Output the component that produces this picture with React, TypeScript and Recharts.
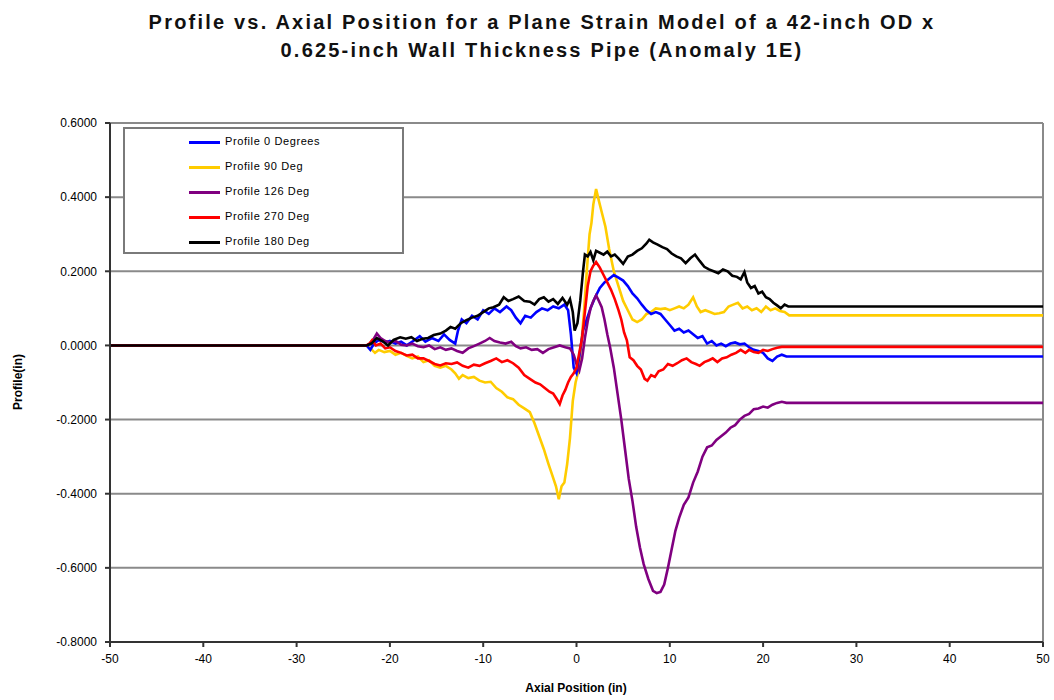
import React from "react";
import { LineChart, Line, XAxis, YAxis, CartesianGrid, ReferenceLine } from "recharts";

const titleLines = [
  "Profile vs. Axial Position for a Plane Strain Model of a 42-inch OD x",
  "0.625-inch Wall Thickness Pipe (Anomaly 1E)",
];
const xTicks = [-50, -40, -30, -20, -10, 0, 10, 20, 30, 40, 50];
const yTicks = [-0.8, -0.6, -0.4, -0.2, 0, 0.2, 0.4, 0.6];

const profile0Deg: [number, number][] = [
  [-50, 0], [-22.5, 0], [-22.1, -0.012], [-21.7, 0.005], [-21.2, 0.015], [-20.5, 0.008], [-20, 0.012],
  [-19.4, 0.005], [-18.8, 0.01], [-18.2, 0.0], [-17.5, 0.012], [-16.8, 0.025], [-16.2, 0.01], [-15.5, 0.02],
  [-14.8, 0.012], [-14.2, 0.03], [-13.6, 0.015], [-13.0, 0.005], [-12.7, 0.04], [-12.3, 0.07], [-11.8, 0.06],
  [-11.2, 0.08], [-10.6, 0.07], [-10.0, 0.095], [-9.4, 0.085], [-8.8, 0.1], [-8.2, 0.09], [-7.5, 0.105],
  [-7.0, 0.095], [-6.5, 0.075], [-6.0, 0.06], [-5.5, 0.08], [-4.9, 0.075], [-4.3, 0.09], [-3.7, 0.1],
  [-3.1, 0.095], [-2.5, 0.105], [-1.9, 0.1], [-1.3, 0.11], [-0.9, 0.095], [-0.6, 0.03], [-0.3, -0.06],
  [0.0, -0.075], [0.3, -0.03], [0.7, 0.04], [1.1, 0.07], [1.5, 0.1], [2.0, 0.13], [2.5, 0.155], [3.0, 0.17],
  [3.5, 0.18], [4.0, 0.19], [4.5, 0.183], [5.0, 0.175], [5.5, 0.16], [6.0, 0.14], [6.5, 0.127], [7.0, 0.11],
  [7.5, 0.095], [8.0, 0.085], [8.5, 0.09], [9.0, 0.085], [9.5, 0.07], [10.0, 0.055], [10.5, 0.04],
  [11.0, 0.045], [11.5, 0.035], [12.0, 0.04], [12.5, 0.03], [13.0, 0.02], [13.5, 0.025], [14.0, 0.005],
  [14.5, 0.012], [15.0, 0.0], [15.5, 0.005], [16.0, -0.002], [16.5, 0.005], [17.0, 0.008], [17.5, 0.003],
  [18.0, 0.005], [18.5, -0.005], [19.0, -0.012], [19.5, -0.015], [20.0, -0.02], [20.5, -0.035],
  [21.0, -0.042], [21.5, -0.03], [22.0, -0.025], [22.5, -0.03], [50, -0.03],
];

const profile90Deg: [number, number][] = [
  [-50, 0], [-22.5, 0], [-22.0, -0.01], [-21.6, -0.02], [-21.2, -0.012], [-20.6, -0.018], [-20, -0.015],
  [-19.4, -0.025], [-18.8, -0.02], [-18.2, -0.028], [-17.6, -0.035], [-17.0, -0.03], [-16.4, -0.045],
  [-15.8, -0.04], [-15.2, -0.055], [-14.6, -0.06], [-14.0, -0.055], [-13.4, -0.065], [-13.0, -0.075],
  [-12.6, -0.09], [-12.2, -0.08], [-11.6, -0.088], [-11.0, -0.085], [-10.4, -0.095], [-9.8, -0.1],
  [-9.2, -0.098], [-8.6, -0.115], [-8.0, -0.125], [-7.4, -0.14], [-6.8, -0.145], [-6.2, -0.16],
  [-5.6, -0.17], [-5.0, -0.18], [-4.5, -0.21], [-4.0, -0.245], [-3.5, -0.28], [-3.0, -0.32], [-2.6, -0.35],
  [-2.2, -0.38], [-1.9, -0.415], [-1.6, -0.38], [-1.3, -0.37], [-1.0, -0.32], [-0.7, -0.25], [-0.4, -0.15],
  [-0.1, -0.1], [0.2, -0.07], [0.5, 0.0], [0.8, 0.09], [1.1, 0.2], [1.4, 0.3], [1.6, 0.33], [1.8, 0.38],
  [2.1, 0.422], [2.4, 0.39], [2.7, 0.36], [3.1, 0.32], [3.5, 0.26], [4.0, 0.2], [4.5, 0.16], [5.0, 0.12],
  [5.5, 0.095], [6.0, 0.07], [6.5, 0.063], [7.0, 0.07], [7.5, 0.085], [8.0, 0.09], [8.5, 0.1], [9.0, 0.098],
  [9.5, 0.1], [10.0, 0.095], [10.5, 0.1], [11.0, 0.105], [11.5, 0.1], [12.0, 0.11], [12.5, 0.13],
  [12.9, 0.105], [13.3, 0.09], [13.8, 0.095], [14.3, 0.09], [14.8, 0.085], [15.3, 0.087], [15.8, 0.09],
  [16.3, 0.105], [16.8, 0.11], [17.3, 0.115], [17.8, 0.1], [18.3, 0.105], [18.8, 0.095], [19.3, 0.1],
  [19.8, 0.09], [20.3, 0.105], [20.8, 0.095], [21.3, 0.1], [21.8, 0.093], [22.3, 0.09], [22.8, 0.081],
  [50, 0.081],
];

const profile126Deg: [number, number][] = [
  [-50, 0], [-22.5, 0], [-22.1, 0.005], [-21.8, 0.015], [-21.4, 0.032], [-21.0, 0.02], [-20.5, 0.012],
  [-20, 0.008], [-19.4, 0.012], [-18.8, 0.002], [-18.2, 0.0], [-17.6, 0.005], [-17.0, -0.002],
  [-16.4, -0.005], [-15.8, 0.0], [-15.2, -0.01], [-14.6, -0.005], [-14.0, -0.012], [-13.4, -0.008],
  [-12.8, -0.015], [-12.2, -0.02], [-11.6, -0.008], [-11.0, -0.002], [-10.4, 0.005], [-9.8, 0.012],
  [-9.3, 0.02], [-8.8, 0.012], [-8.2, 0.008], [-7.6, 0.005], [-7.0, 0.01], [-6.5, -0.002], [-6.0, -0.008],
  [-5.4, -0.005], [-4.8, -0.012], [-4.2, -0.01], [-3.6, -0.02], [-3.0, -0.01], [-2.4, -0.005], [-1.8, 0.0],
  [-1.2, -0.005], [-0.7, -0.008], [-0.3, -0.025], [0.0, -0.05], [0.3, -0.068], [0.6, -0.035], [0.9, 0.02],
  [1.2, 0.065], [1.5, 0.1], [1.8, 0.12], [2.1, 0.135], [2.4, 0.12], [2.7, 0.103], [3.0, 0.07], [3.3, 0.03],
  [3.6, -0.005], [4.0, -0.06], [4.4, -0.13], [4.8, -0.2], [5.2, -0.28], [5.6, -0.36], [6.0, -0.42],
  [6.4, -0.49], [6.8, -0.545], [7.2, -0.59], [7.7, -0.63], [8.2, -0.662], [8.6, -0.668], [9.0, -0.665],
  [9.4, -0.645], [9.8, -0.6], [10.2, -0.55], [10.6, -0.5], [11.0, -0.465], [11.5, -0.43], [12.0, -0.41],
  [12.5, -0.37], [13.0, -0.34], [13.5, -0.3], [14.0, -0.275], [14.5, -0.27], [15.0, -0.255], [15.5, -0.245],
  [16.0, -0.235], [16.5, -0.222], [17.0, -0.215], [17.5, -0.2], [18.0, -0.19], [18.5, -0.185],
  [19.0, -0.172], [19.5, -0.17], [20.0, -0.165], [20.5, -0.168], [21.0, -0.16], [21.5, -0.155],
  [22.0, -0.152], [22.5, -0.155], [50, -0.155],
];

const profile270Deg: [number, number][] = [
  [-50, 0], [-22.5, 0], [-22.2, 0.005], [-21.9, 0.014], [-21.5, 0.0], [-21.0, 0.005], [-20.5, -0.008],
  [-20, -0.005], [-19.4, -0.015], [-18.8, -0.02], [-18.2, -0.027], [-17.6, -0.025], [-17.0, -0.035],
  [-16.4, -0.035], [-15.8, -0.042], [-15.2, -0.05], [-14.6, -0.054], [-14.0, -0.048], [-13.4, -0.05],
  [-12.8, -0.046], [-12.2, -0.055], [-11.6, -0.06], [-11.0, -0.052], [-10.4, -0.055], [-9.8, -0.048],
  [-9.2, -0.042], [-8.6, -0.035], [-8.0, -0.045], [-7.4, -0.04], [-6.8, -0.048], [-6.2, -0.06],
  [-5.6, -0.08], [-5.0, -0.09], [-4.4, -0.1], [-3.9, -0.105], [-3.4, -0.115], [-2.9, -0.125], [-2.5, -0.13],
  [-2.1, -0.145], [-1.8, -0.158], [-1.5, -0.135], [-1.2, -0.12], [-0.9, -0.1], [-0.6, -0.085],
  [-0.3, -0.075], [0.0, -0.06], [0.3, -0.02], [0.6, 0.02], [0.9, 0.09], [1.2, 0.16], [1.5, 0.2],
  [1.8, 0.215], [2.1, 0.225], [2.5, 0.21], [2.9, 0.19], [3.3, 0.17], [3.7, 0.15], [4.1, 0.125],
  [4.5, 0.095], [4.8, 0.07], [5.1, 0.035], [5.4, 0.014], [5.7, -0.032], [6.1, -0.04], [6.5, -0.055],
  [6.9, -0.065], [7.3, -0.09], [7.6, -0.095], [8.0, -0.08], [8.4, -0.085], [8.8, -0.07], [9.3, -0.065],
  [9.8, -0.05], [10.3, -0.055], [10.8, -0.048], [11.3, -0.04], [11.8, -0.035], [12.3, -0.045],
  [12.8, -0.05], [13.2, -0.055], [13.7, -0.045], [14.2, -0.04], [14.6, -0.035], [15.1, -0.045],
  [15.6, -0.035], [16.1, -0.032], [16.6, -0.025], [17.1, -0.02], [17.6, -0.012], [18.1, -0.02],
  [18.5, -0.012], [19.0, -0.018], [19.5, -0.02], [20.0, -0.012], [20.5, -0.015], [21.0, -0.01],
  [21.5, -0.006], [22.0, -0.004], [50, -0.004],
];

const profile180Deg: [number, number][] = [
  [-50, 0], [-22.5, 0], [-22.0, 0.005], [-21.4, 0.02], [-20.8, 0.012], [-20.2, 0.0], [-19.6, 0.015],
  [-18.9, 0.022], [-18.3, 0.018], [-17.7, 0.022], [-17.1, 0.012], [-16.5, 0.018], [-15.9, 0.02],
  [-15.3, 0.028], [-14.6, 0.032], [-14.0, 0.04], [-13.5, 0.05], [-13.0, 0.045], [-12.4, 0.06],
  [-11.8, 0.068], [-11.2, 0.075], [-10.6, 0.08], [-10.0, 0.09], [-9.4, 0.1], [-8.9, 0.103], [-8.3, 0.11],
  [-7.8, 0.13], [-7.3, 0.12], [-6.8, 0.125], [-6.2, 0.132], [-5.6, 0.12], [-5.0, 0.118], [-4.5, 0.11],
  [-4.0, 0.125], [-3.5, 0.13], [-3.0, 0.118], [-2.5, 0.125], [-2.0, 0.112], [-1.5, 0.128], [-1.0, 0.11],
  [-0.7, 0.125], [-0.4, 0.09], [-0.2, 0.04], [0.1, 0.06], [0.4, 0.12], [0.7, 0.2], [0.9, 0.245],
  [1.2, 0.24], [1.5, 0.252], [1.8, 0.23], [2.1, 0.255], [2.5, 0.25], [2.9, 0.245], [3.3, 0.253],
  [3.7, 0.24], [4.1, 0.245], [4.5, 0.235], [5.0, 0.22], [5.5, 0.24], [6.0, 0.245], [6.5, 0.255],
  [7.0, 0.262], [7.5, 0.275], [7.8, 0.285], [8.2, 0.278], [8.7, 0.272], [9.2, 0.265], [9.7, 0.26],
  [10.2, 0.248], [10.7, 0.24], [11.2, 0.235], [11.7, 0.222], [12.2, 0.235], [12.7, 0.245], [13.2, 0.228],
  [13.7, 0.212], [14.2, 0.205], [14.7, 0.2], [15.2, 0.195], [15.7, 0.205], [16.2, 0.2], [16.7, 0.188],
  [17.2, 0.185], [17.6, 0.178], [18.0, 0.198], [18.3, 0.17], [18.7, 0.155], [19.1, 0.16], [19.5, 0.14],
  [19.9, 0.145], [20.3, 0.13], [20.7, 0.125], [21.1, 0.115], [21.5, 0.108], [21.9, 0.1], [22.3, 0.11],
  [22.7, 0.105], [50, 0.105],
];

const seriesNames = ["Profile 0 Degrees", "Profile 90 Deg", "Profile 126 Deg", "Profile 270 Deg", "Profile 180 Deg"];
const seriesColors = ["#0000FF", "#FFCC00", "#800080", "#FF0000", "#000000"];
const seriesData = [profile0Deg, profile90Deg, profile126Deg, profile270Deg, profile180Deg];
const drawOrder = [1, 0, 2, 3, 4];

const FONT = "'Liberation Sans', Arial, sans-serif";

export default function App() {
  return (
    <div style={{ position: "absolute", left: 0, top: 0, width: 1054, height: 700, background: "#fff", fontFamily: FONT }}>
      <div style={{ position: "absolute", left: 0, width: 1084, top: 8, textAlign: "center", fontWeight: "bold", fontSize: 20, lineHeight: "28px", letterSpacing: 2.2, color: "#111" }}>
        <div>{titleLines[0]}</div>
        <div>{titleLines[1]}</div>
      </div>
      <LineChart width={1054} height={700} margin={{ top: 123, right: 11, bottom: 28, left: 30 }}>
        <CartesianGrid horizontal={true} vertical={false} stroke="#8a8a8a" strokeWidth={2} />
        <XAxis
          dataKey="x"
          type="number"
          domain={[-50, 50]}
          ticks={xTicks}
          allowDataOverflow
          height={30}
          tickSize={5}
          tickMargin={7}
          stroke="#333"
          strokeWidth={2}
          tick={{ fill: "#000", fontSize: 12, fontFamily: FONT }}
        />
        <YAxis
          dataKey="y"
          type="number"
          domain={[-0.8, 0.6]}
          ticks={yTicks}
          allowDataOverflow
          width={80}
          tickSize={5}
          tickMargin={8}
          stroke="#333"
          strokeWidth={2}
          tickFormatter={(v: number) => v.toFixed(4)}
          tick={{ fill: "#000", fontSize: 12, fontFamily: FONT }}
        />
        <ReferenceLine x={50} stroke="#8a8a8a" strokeWidth={2} />
        {drawOrder.map((i) => (
          <Line
            key={seriesNames[i]}
            data={seriesData[i].map(([x, y]) => ({ x, y }))}
            dataKey="y"
            name={seriesNames[i]}
            type="linear"
            stroke={seriesColors[i]}
            strokeWidth={2.6}
            dot={false}
            activeDot={false}
            isAnimationActive={false}
          />
        ))}
      </LineChart>
      <div style={{ position: "absolute", left: 18, top: 382, transform: "translate(-50%, -50%) rotate(-90deg)", fontWeight: "bold", fontSize: 12, whiteSpace: "nowrap" }}>
        Profile(in)
      </div>
      <div style={{ position: "absolute", left: 576, top: 688, transform: "translate(-50%, -50%)", fontWeight: "bold", fontSize: 12, whiteSpace: "nowrap" }}>
        Axial Position (in)
      </div>
      <div style={{ position: "absolute", left: 123, top: 127, width: 281, height: 127, boxSizing: "border-box", border: "2px solid #7a7a7a", background: "#fff" }}>
        {seriesNames.map((name, i) => (
          <div key={name} style={{ position: "absolute", left: 0, top: 5 + i * 25, height: 18, width: "100%" }}>
            <div style={{ position: "absolute", left: 64, top: 7, width: 31, height: 3, background: seriesColors[i] }} />
            <div style={{ position: "absolute", left: 100, top: 1, fontSize: 11, letterSpacing: 0.6, whiteSpace: "nowrap", color: "#000" }}>{name}</div>
          </div>
        ))}
      </div>
    </div>
  );
}
